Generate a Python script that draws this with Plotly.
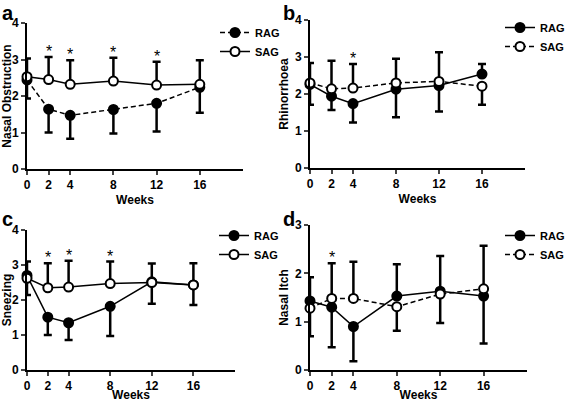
import plotly.graph_objects as go

weeks = [0, 2, 4, 8, 12, 16]
week_ticks = ["0", "2", "4", "8", "12", "16"]

# Panel a - Nasal Obstruction
a_rag = [2.44, 1.64, 1.47, 1.63, 1.80, 2.24]
a_sag = [2.53, 2.45, 2.32, 2.41, 2.30, 2.32]
a_rag_up = [0, 0, 0, 0, 0, 0]
a_rag_down = [0.51, 0.64, 0.64, 0.66, 0.77, 0.70]
a_sag_up = [0.50, 0.62, 0.66, 0.64, 0.64, 0.66]
a_sag_down = [0, 0, 0, 0, 0, 0]
a_stars = [2, 4, 8, 12]

# Panel b - Rhinorrhoea
b_rag = [2.26, 1.94, 1.74, 2.13, 2.23, 2.54]
b_sag = [2.30, 2.14, 2.16, 2.30, 2.34, 2.21]
b_rag_up = [0, 0, 0, 0, 0, 0.27]
b_rag_down = [0.55, 0.37, 0.51, 0.76, 0.70, 0]
b_sag_up = [0.54, 0.76, 0.65, 0.65, 0.79, 0]
b_sag_down = [0, 0, 0, 0, 0, 0.50]
b_stars = [4]

# Panel c - Sneezing
c_rag = [2.70, 1.51, 1.35, 1.82, 2.52, 2.43]
c_sag = [2.62, 2.35, 2.37, 2.47, 2.50, 2.43]
c_rag_up = [0.40, 0, 0, 0, 0.52, 0.62]
c_rag_down = [0, 0.51, 0.49, 0.85, 0, 0]
c_sag_up = [0, 0.70, 0.75, 0.63, 0, 0]
c_sag_down = [0.48, 0, 0, 0, 0.61, 0.57]
c_stars = [2, 4, 8]

# Panel d - Nasal Itch
d_rag = [1.43, 1.30, 0.90, 1.53, 1.63, 1.53]
d_sag = [1.28, 1.48, 1.48, 1.31, 1.57, 1.68]
d_rag_up = [0.49, 0, 0, 0.66, 0.73, 0]
d_rag_down = [0, 0.83, 0.72, 0, 0, 0.98]
d_sag_up = [0, 0.73, 0.76, 0, 0, 0.89]
d_sag_down = [0.58, 0, 0, 0.50, 0.60, 0]
d_stars = [2]

W, H = 567, 402
FONT = "Liberation Sans"

panels = [
    dict(letter="a", title="Nasal Obstruction", rag=a_rag, sag=a_sag,
         rag_up=a_rag_up, rag_down=a_rag_down, sag_up=a_sag_up, sag_down=a_sag_down,
         stars=a_stars, rag_dash="5px,3px", sag_dash="solid", ymax=4,
         px=(27, 243), py=(23, 169), leg=(215, 18), lpos=(0, 0)),
    dict(letter="b", title="Rhinorrhoea", rag=b_rag, sag=b_sag,
         rag_up=b_rag_up, rag_down=b_rag_down, sag_up=b_sag_up, sag_down=b_sag_down,
         stars=b_stars, rag_dash="solid", sag_dash="5px,3px", ymax=4,
         px=(310, 525), py=(20, 168), leg=(500, 13), lpos=(281, 0)),
    dict(letter="c", title="Sneezing", rag=c_rag, sag=c_sag,
         rag_up=c_rag_up, rag_down=c_rag_down, sag_up=c_sag_up, sag_down=c_sag_down,
         stars=c_stars, rag_dash="solid", sag_dash="solid", ymax=4,
         px=(27, 235), py=(230, 370), leg=(214, 221), lpos=(0, 206)),
    dict(letter="d", title="Nasal Itch", rag=d_rag, sag=d_sag,
         rag_up=d_rag_up, rag_down=d_rag_down, sag_up=d_sag_up, sag_down=d_sag_down,
         stars=d_stars, rag_dash="solid", sag_dash="5px,3px", ymax=3,
         px=(310, 527), py=(225, 370), leg=(500, 221), lpos=(281, 206)),
]

fig = go.Figure()
layout = dict(
    width=W, height=H, margin=dict(l=0, r=0, t=0, b=0, autoexpand=False),
    paper_bgcolor="white", plot_bgcolor="white",
    font=dict(family=FONT, size=12, color="black"),
    annotations=[],
)

for i, p in enumerate(panels):
    n = "" if i == 0 else str(i + 1)
    xa, ya = "x" + n, "y" + n
    leg = "legend" + n
    for name, vals, up, down, filled, dash in [
        ("RAG", p["rag"], p["rag_up"], p["rag_down"], True, p["rag_dash"]),
        ("SAG", p["sag"], p["sag_up"], p["sag_down"], False, p["sag_dash"]),
    ]:
        fig.add_trace(go.Scatter(
            x=weeks, y=vals, name=name, mode="lines+markers",
            xaxis=xa, yaxis=ya, legend=leg, cliponaxis=False,
            line=dict(color="black", width=1.5, dash=dash),
            marker=dict(symbol="circle", size=9,
                        color="black" if filled else "white",
                        line=dict(color="black", width=2)),
            error_y=dict(type="data", symmetric=False, array=up, arrayminus=down,
                         color="black", thickness=2.5, width=4),
        ))
    x0, x1 = p["px"]
    yt, yb = p["py"]
    layout["xaxis" + n] = dict(
        domain=[x0 / W, x1 / W], anchor=ya, range=[0, 20], automargin=False,
        tickvals=weeks, ticktext=week_ticks, ticks="outside", ticklen=4,
        tickwidth=2, showline=True, linewidth=2, linecolor="black",
        showgrid=False, zeroline=False,
        tickfont=dict(family=FONT, size=12, weight="bold"),
        title=dict(text="<b>Weeks</b>", standoff=4, font=dict(size=12)),
    )
    layout["yaxis" + n] = dict(
        domain=[1 - yb / H, 1 - yt / H], anchor=xa, range=[0, p["ymax"]],
        automargin=False,
        dtick=1, ticks="outside", ticklen=4, tickwidth=2,
        showline=True, linewidth=2, linecolor="black",
        showgrid=False, zeroline=False,
        tickfont=dict(family=FONT, size=12, weight="bold"),
        title=dict(text="<b>" + p["title"] + "</b>", standoff=4, font=dict(size=12)),
    )
    lx, ly = p["leg"]
    layout[leg] = dict(
        x=lx / W, y=1 - ly / H, xanchor="left", yanchor="top",
        bgcolor="rgba(0,0,0,0)", itemwidth=30, tracegroupgap=0,
        font=dict(family=FONT, size=11, weight="bold"),
    )
    # panel letter
    px_, py_ = p["lpos"]
    layout["annotations"].append(dict(
        text="<b>" + p["letter"] + "</b>", xref="paper", yref="paper",
        x=px_ / W, y=1 - py_ / H, xanchor="left", yanchor="top",
        showarrow=False, font=dict(family=FONT, size=20),
    ))
    # significance stars
    for s in p["stars"]:
        k = weeks.index(s)
        top = max(p["rag"][k] + p["rag_up"][k], p["sag"][k] + p["sag_up"][k])
        layout["annotations"].append(dict(
            text="*", xref=xa, yref=ya, x=s, y=top, xanchor="center",
            yanchor="bottom", yshift=-5, showarrow=False,
            font=dict(family=FONT, size=16, color="black"),
        ))

fig.update_layout(**layout)
fig.write_html("out.html", config={"displayModeBar": False},
               post_script="document.body.style.margin='0';document.body.style.overflow='hidden';")
